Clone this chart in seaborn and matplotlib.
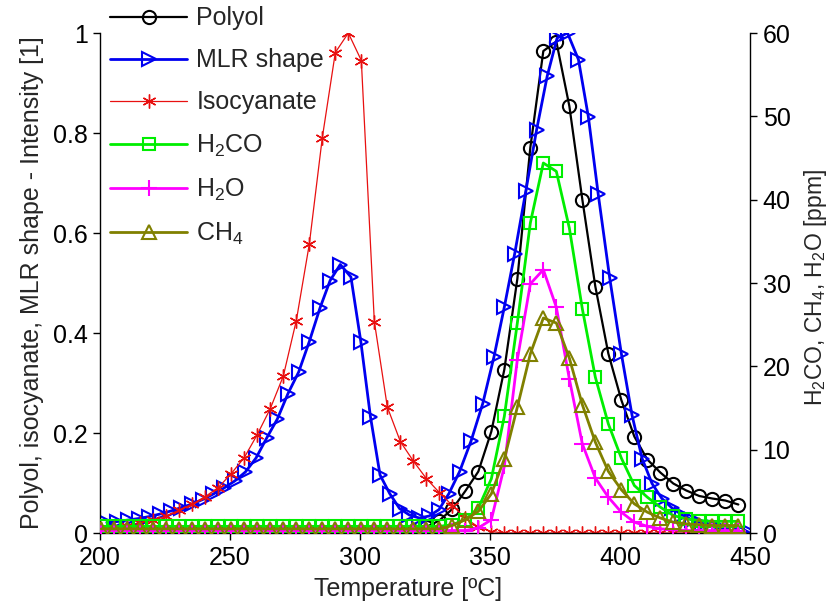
import numpy as np
import pandas as pd
import matplotlib
matplotlib.use("Agg")
import matplotlib.pyplot as plt
import seaborn as sns

# ---------------- data ----------------
temp = [200.5, 205.5, 210.5, 215.5, 220.5, 225.5, 230.5, 235.5, 240.5, 245.5,
        250.5, 255.5, 260.5, 265.5, 270.5, 275.5, 280.5, 285.5, 290.5, 295.5,
        300.5, 305.5, 310.5, 315.5, 320.5, 325.5, 330.5, 335.5, 340.5, 345.5,
        350.5, 355.5, 360.5, 365.5, 370.5, 375.5, 380.5, 385.5, 390.5, 395.5,
        400.5, 405.5, 410.5, 415.5, 420.5, 425.5, 430.5, 435.5, 440.5, 445.5]

polyol = [0, 0, 0, 0, 0, 0, 0, 0, 0, 0,
          0, 0, 0, 0, 0, 0, 0, 0, 0, 0,
          0, 0, 0, 0, 0.005, 0.012, 0.025, 0.048, 0.084, 0.123,
          0.203, 0.327, 0.508, 0.771, 0.964, 0.983, 0.854, 0.667, 0.493, 0.359,
          0.266, 0.193, 0.147, 0.121, 0.099, 0.085, 0.074, 0.069, 0.065, 0.057]

isocyanate = [0.008, 0.011, 0.015, 0.020, 0.026, 0.034, 0.046, 0.058, 0.073, 0.091,
              0.119, 0.151, 0.197, 0.249, 0.314, 0.425, 0.578, 0.791, 0.961, 1.0,
              0.945, 0.423, 0.252, 0.183, 0.144, 0.109, 0.081, 0.055, 0.030, 0.012,
              0.003, 0, 0, 0, 0, 0, 0, 0, 0, 0,
              0, 0, 0, 0, 0, 0, 0, 0, 0, 0]

mlr_temp = [202.6, 206.7, 210.8, 214.9, 219.0, 223.1, 227.2, 231.3, 235.4, 239.5,
            243.6, 247.7, 251.8, 255.9, 260.0, 264.1, 268.2, 272.3, 276.4, 280.5,
            284.6, 288.5, 292.4, 296.5, 300.3, 304.0, 307.7, 311.4, 315.2, 319.0,
            322.8, 326.6, 330.4, 334.2, 338.3, 342.7, 347.2, 351.5, 355.5, 359.5,
            363.8, 367.9, 372.0, 375.8, 379.8, 384.0, 387.8, 391.6, 396.0, 400.5,
            404.6, 408.5, 412.3, 416.1, 420.0, 423.9, 427.8, 431.7, 435.6, 439.5,
            443.4, 447.0, 450.2]
mlr_shape = [0.021, 0.023, 0.026, 0.029, 0.033, 0.038, 0.044, 0.051, 0.058, 0.067,
             0.078, 0.090, 0.104, 0.122, 0.150, 0.190, 0.228, 0.279, 0.322, 0.383,
             0.450, 0.505, 0.537, 0.512, 0.383, 0.233, 0.116, 0.079, 0.049, 0.036,
             0.030, 0.034, 0.047, 0.079, 0.123, 0.184, 0.259, 0.352, 0.452, 0.559,
             0.685, 0.806, 0.914, 0.990, 1.0, 0.947, 0.833, 0.678, 0.511, 0.359,
             0.236, 0.149, 0.099, 0.069, 0.050, 0.036, 0.026, 0.019, 0.013, 0.008,
             0.004, 0.002, 0.0]

h2co = [0.8, 0.8, 0.8, 0.8, 0.8, 0.8, 0.8, 0.8, 0.8, 0.8,
        0.8, 0.8, 0.8, 0.8, 0.8, 0.8, 0.8, 0.8, 0.8, 0.8,
        0.8, 0.8, 0.8, 0.8, 0.8, 0.8, 0.8, 1.0, 1.6, 3.0,
        6.5, 14.0, 25.2, 37.2, 44.4, 43.4, 36.6, 26.9, 18.7, 13.1,
        9.0, 5.7, 4.3, 3.1, 2.1, 1.7, 1.5, 1.4, 1.4, 1.4]

h2o = [0.3, 0.3, 0.3, 0.3, 0.3, 0.3, 0.3, 0.3, 0.3, 0.3,
       0.3, 0.3, 0.3, 0.3, 0.3, 0.3, 0.3, 0.3, 0.3, 0.3,
       0.3, 0.3, 0.3, 0.3, 0.3, 0.3, 0.3, 0.3, 0.3, 0.6,
       1.6, 8.0, 20.8, 29.9, 31.6, 27.1, 18.5, 10.7, 6.6, 4.3,
       2.5, 1.3, 0.8, 0.5, 0.4, 0.3, 0.3, 0.3, 0.3, 0.3]

ch4 = [0.5, 0.5, 0.5, 0.5, 0.5, 0.5, 0.5, 0.5, 0.5, 0.5,
       0.5, 0.5, 0.5, 0.5, 0.5, 0.5, 0.5, 0.5, 0.5, 0.5,
       0.5, 0.5, 0.5, 0.5, 0.5, 0.5, 0.5, 0.9, 1.6, 2.6,
       4.7, 8.9, 15.1, 21.5, 25.8, 25.2, 21.0, 15.4, 10.9, 7.4,
       5.2, 3.5, 2.5, 1.8, 1.3, 1.1, 1.0, 0.9, 0.9, 0.9]

left_ticks = [0, 0.2, 0.4, 0.6, 0.8, 1]
left_ticklabels = ["0", "0.2", "0.4", "0.6", "0.8", "1"]
right_ticks = [0, 10, 20, 30, 40, 50, 60]
x_ticks = [200, 250, 300, 350, 400, 450]

# ---------------- style ----------------
sns.set_style("white")
plt.rcParams["font.family"] = ["Liberation Sans", "DejaVu Sans"]
plt.rcParams["mathtext.default"] = "regular"
FS = 18

fig = plt.figure(figsize=(8.37, 6.10), dpi=100)
ax = fig.add_axes([0.1195, 0.1262, 0.7766, 0.8197])
ax2 = ax.twinx()

df = pd.DataFrame({"T": temp, "polyol": polyol, "iso": isocyanate,
                   "h2co": h2co, "h2o": h2o, "ch4": ch4})
dm = pd.DataFrame({"T": mlr_temp, "mlr": mlr_shape})

common = dict(markerfacecolor="none", markeredgewidth=1.5, estimator=None,
              sort=False, errorbar=None)

sns.lineplot(data=df, x="T", y="polyol", ax=ax, color="black", linewidth=1.6,
             marker="o", markersize=9.5, markeredgecolor="black", label="Polyol", **common)
sns.lineplot(data=dm, x="T", y="mlr", ax=ax, color="#0000F0", linewidth=2.0,
             marker=">", markersize=10, markeredgecolor="#0000F0", label="MLR shape", **common)
sns.lineplot(data=df, x="T", y="iso", ax=ax, color="#E81010", linewidth=0.9,
             marker=(6, 2, 0), markersize=10, markeredgecolor="#E81010",
             label="Isocyanate", markerfacecolor="none", markeredgewidth=1.0,
             estimator=None, sort=False, errorbar=None)

sns.lineplot(data=df, x="T", y="h2co", ax=ax2, color="#00EE00", linewidth=2.0,
             marker="s", markersize=8.5, markeredgecolor="#00EE00", label="H$_2$CO", **common)
sns.lineplot(data=df, x="T", y="h2o", ax=ax2, color="#FF00FF", linewidth=2.0,
             marker="+", markersize=11, markeredgecolor="#FF00FF", label="H$_2$O", **common)
sns.lineplot(data=df, x="T", y="ch4", ax=ax2, color="#808000", linewidth=2.0,
             marker="^", markersize=10, markeredgecolor="#808000", label="CH$_4$", **common)

# axes limits/ticks
ax.set_xlim(200, 450)
ax.set_ylim(0, 1)
ax2.set_ylim(0, 60)
ax.set_xticks(x_ticks)
ax.set_xticklabels([str(t) for t in x_ticks])
ax.set_yticks(left_ticks)
ax.set_yticklabels(left_ticklabels)
ax2.set_yticks(right_ticks)
ax2.set_yticklabels([str(t) for t in right_ticks])

for a in (ax, ax2):
    a.tick_params(axis="both", direction="out", length=5, width=1, colors="black",
                  labelsize=FS, pad=4)
    a.spines["top"].set_visible(False)
    for s in ("left", "right", "bottom"):
        a.spines[s].set_color("black")
        a.spines[s].set_linewidth(1.0)
ax.tick_params(left=True, bottom=True)
ax2.tick_params(right=True)
ax.spines["right"].set_visible(False)
ax2.spines["left"].set_visible(False)
ax2.spines["bottom"].set_visible(False)

ax.set_xlabel("Temperature [ºC]", fontsize=FS)
ax.xaxis.set_label_coords(0.474, -0.088)
ax.set_ylabel("Polyol, isocyanate, MLR shape - Intensity [1]", fontsize=FS, labelpad=6)
ax2.set_ylabel("H$_2$CO, CH$_4$, H$_2$O [ppm]", fontsize=16.5)
ax2.yaxis.set_label_coords(1.08, 0.49)

# legend
h1, l1 = ax.get_legend_handles_labels()
h2, l2 = ax2.get_legend_handles_labels()
for a in (ax, ax2):
    if a.get_legend() is not None:
        a.get_legend().remove()
fig.legend(h1 + h2, l1 + l2, loc="upper left", bbox_to_anchor=(0.1314, 0.9895),
           frameon=False, fontsize=FS, handlelength=3.1, handletextpad=0.36,
           labelspacing=0.72, borderpad=0.0, borderaxespad=0.0)

fig.savefig("out.png", dpi=100)
